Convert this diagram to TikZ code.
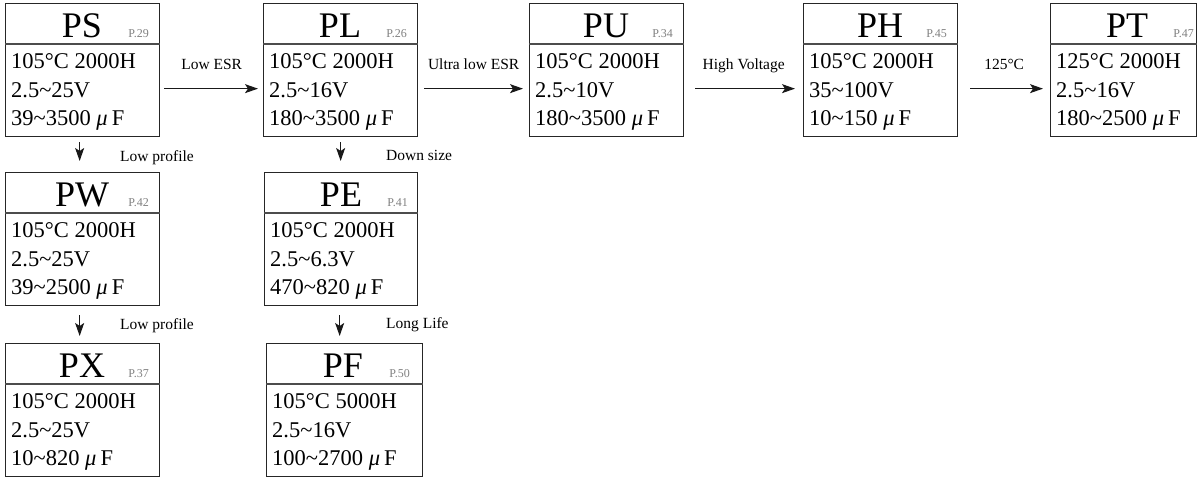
\documentclass[tikz,border=0pt]{standalone}
\usepackage{fontspec}
\setmainfont{Liberation Serif}
\usetikzlibrary{arrows.meta}
\newcommand\tld{\textasciitilde}
\newcommand\uF{\textit{μ}\hspace{4pt}F}
\newcommand\capbox[9]{%
  \node[capframe, minimum width=#4, anchor=north west] (#1) at (#2,#3) {};
  \draw[divider] ([yshift=-41pt]#1.north west) -- ([yshift=-41pt]#1.north east);
  \node[titletxt] (#1-t) at ([xshift=77pt,yshift=-34pt]#1.north west) {#5};
  \node[pagetxt] (#1-p) at ([xshift=144pt,yshift=-34pt]#1.north west) {#6};
  \node[bodytxt] (#1-a) at ([xshift=6pt,yshift=-65pt]#1.north west) {#7};
  \node[bodytxt] (#1-b) at ([xshift=6pt,yshift=-94pt]#1.north west) {#8};
  \node[bodytxt] (#1-c) at ([xshift=6pt,yshift=-122pt]#1.north west) {#9};
}
\begin{document}
\begin{tikzpicture}[x=1pt,y=-1pt,
  capframe/.style={draw=black!85, line width=1.3pt, inner sep=0pt, minimum height=133pt},
  divider/.style={draw=black!70, line width=1.5pt},
  titletxt/.style={anchor=base, inner sep=0pt, font=\fontsize{36}{36}\selectfont},
  pagetxt/.style={anchor=base east, inner sep=0pt, text=black!50, font=\fontsize{12}{12}\selectfont},
  bodytxt/.style={anchor=base west, inner sep=0pt, font=\fontsize{22.5}{22.5}\selectfont},
  lbl/.style={inner sep=0pt, font=\fontsize{15.5}{15.5}\selectfont},
  arr/.style={-{Stealth[length=13pt,width=9pt,inset=3pt]}, line width=1.1pt, draw=black!90}]
\useasboundingbox (0,0) rectangle (1197,477);

\capbox{ps}{5}{3}{154}{PS}{P.29}{105°C 2000H}{2.5\tld25V}{39\tld3500 \uF}
\capbox{pl}{263}{3}{154}{PL}{P.26}{105°C 2000H}{2.5\tld16V}{180\tld3500 \uF}
\capbox{pu}{529}{3}{154}{PU}{P.34}{105°C 2000H}{2.5\tld10V}{180\tld3500 \uF}
\capbox{ph}{803}{3}{154}{PH}{P.45}{105°C 2000H}{35\tld100V}{10\tld150 \uF}
\capbox{pt}{1050}{3}{146}{PT}{P.47}{125°C 2000H}{2.5\tld16V}{180\tld2500 \uF}
\capbox{pw}{5}{172}{154}{PW}{P.42}{105°C 2000H}{2.5\tld25V}{39\tld2500 \uF}
\capbox{pe}{264}{172}{153}{PE}{P.41}{105°C 2000H}{2.5\tld6.3V}{470\tld820 \uF}
\capbox{px}{5}{343}{154}{PX}{P.37}{105°C 2000H}{2.5\tld25V}{10\tld820 \uF}
\capbox{pf}{266}{343}{156}{PF}{P.50}{105°C 5000H}{2.5\tld16V}{100\tld2700 \uF}

% horizontal connectors
\draw[arr, shorten <=4pt, shorten >=5pt] ([yshift=-18.5pt]ps.east) -- ([yshift=-18.5pt]pl.west)
  node[lbl, midway, anchor=base, yshift=19pt] (l1) {Low ESR};
\draw[arr, shorten <=6pt, shorten >=6pt] ([yshift=-18.5pt]pl.east) -- ([yshift=-18.5pt]pu.west)
  node[lbl, midway, anchor=base, yshift=19pt] (l2) {Ultra low ESR};
\draw[arr, shorten <=11pt, shorten >=8pt] ([yshift=-18.5pt]pu.east) -- ([yshift=-18.5pt]ph.west)
  node[lbl, midway, anchor=base, yshift=19pt] (l3) {High Voltage};
\draw[arr, shorten <=12pt, shorten >=7pt] ([yshift=-18.5pt]ph.east) -- ([yshift=-18.5pt]pt.west)
  node[lbl, midway, anchor=base, yshift=19pt] (l4) {125°C};

% vertical connectors
\draw[arr, shorten <=5pt, shorten >=11pt] ([xshift=-3pt]ps.south) -- ([xshift=-3pt]ps.south |- pw.north)
  node[lbl, midway, anchor=base west, xshift=40pt, yshift=-7pt] (l5) {Low profile};
\draw[arr, shorten <=5pt, shorten >=11pt] (pl.south) -- (pl.south |- pe.north)
  node[lbl, midway, anchor=base west, xshift=45pt, yshift=-6pt] (l6) {Down size};
\draw[arr, shorten <=9pt, shorten >=7pt] ([xshift=-3pt]pw.south) -- ([xshift=-3pt]pw.south |- px.north)
  node[lbl, midway, anchor=base west, xshift=40pt, yshift=-4.5pt] (l7) {Low profile};
\draw[arr, shorten <=9pt, shorten >=7pt] ([xshift=-1.5pt]pe.south) -- ([xshift=-1.5pt]pe.south |- pf.north)
  node[lbl, midway, anchor=base west, xshift=46pt, yshift=-3.5pt] (l8) {Long Life};
\end{tikzpicture}
\end{document}
